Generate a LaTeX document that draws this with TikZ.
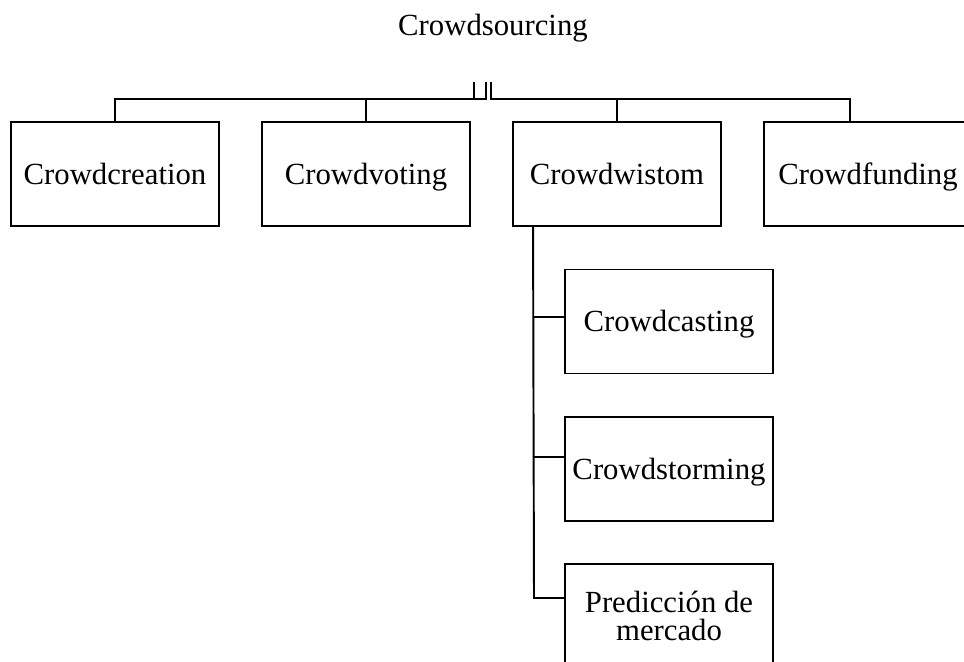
\documentclass[tikz,border=0pt]{standalone}
\usepackage{fontspec}
\setmainfont{Liberation Serif}
\usepackage{tikz}

\tikzset{
  box/.style={draw, line width=1.1pt, minimum width=4.16cm, minimum height=2.08cm, align=center, inner sep=0pt},
  oneline/.style={box, text height=12.5pt, text depth=1.1pt},
  wire/.style={line width=1.1pt},
  every node/.style={font=\fontsize{17.5}{16}\selectfont}
}

\begin{document}
\begin{tikzpicture}[x=0.02cm, y=-0.02cm]

\useasboundingbox (0,0) rectangle (964,662);
\clip (0,0) rectangle (964,662);

\node[anchor=base] (title) at (493, 36) {Crowdsourcing};

\node[oneline] (creation) at (115, 174) {Crowdcreation};
\node[oneline] (voting) at (366, 174) {Crowdvoting};
\node[oneline] (wistom) at (617, 174) {Crowdwistom};
\node[oneline] (funding) at (868, 174) {Crowdfunding};

\node[oneline] (casting) at (669, 321.5) {Crowdcasting};
\node[oneline] (storming) at (669, 469) {Crowdstorming};
\node[box] (market) at (669, 616) {Predicción de\\mercado};

% top bus
\coordinate (busM) at (474, 82);
\coordinate (busL) at (486, 82);
\coordinate (busR) at (491, 82);
\coordinate (barL) at (486, 99);
\coordinate (barR) at (491, 99);

\draw[wire] (busL) -- (barL) -| (creation.north);
\draw[wire] (busM) -- (busM |- barL);
\draw[wire] (voting.north) -- (voting.north |- barL);
\draw[wire] (busR) -- (barR) -| ([xshift=1.74cm]funding.north west);
\draw[wire] (wistom.north) -- (wistom.north |- barR);

% side branch
\coordinate (spine) at ([xshift=0.42cm]wistom.south west);
\coordinate (spineEnd) at (534, 598);
\draw[wire] (spine) -- (spineEnd) -- ([yshift=0.36cm]market.west);
\draw[wire] (spine |- 0,317) -- ([yshift=0.09cm]casting.west);
\draw[wire] (spine |- 0,457) -- ([yshift=0.24cm]storming.west);

\end{tikzpicture}
\end{document}
